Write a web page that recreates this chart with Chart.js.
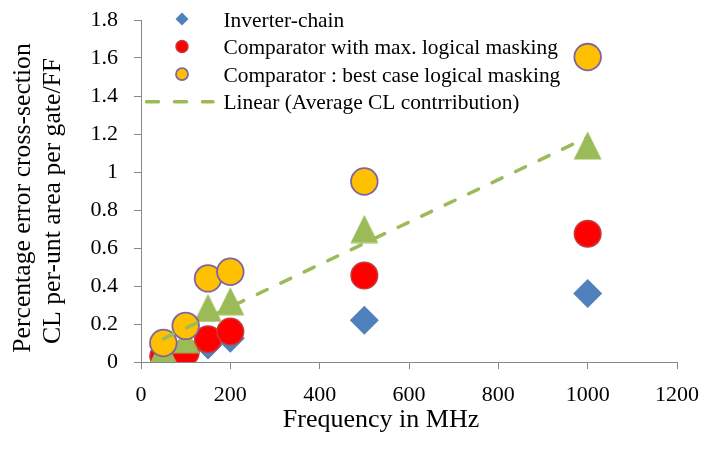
<!DOCTYPE html>
<html>
<head>
<meta charset="utf-8">
<script src="https://cdn.jsdelivr.net/npm/chart.js@4"></script>
<style>
  html, body { margin: 0; padding: 0; background: #ffffff; }
  #wrap { width: 706px; height: 453px; }
</style>
</head>
<body>
<div id="wrap"><canvas id="c" width="706" height="453"></canvas></div>
<script>
// Clock frequency of each test circuit (MHz)
const frequencies = [50, 100, 150, 200, 500, 1000];

// Percentage error cross-section, per-unit area per gate/FF
const inverterChain = [0.03, 0.06, 0.09, 0.125, 0.22, 0.36];
const comparatorMaxMasking = [0.03, 0.05, 0.12, 0.16, 0.455, 0.675];
const comparatorBestMasking = [0.10, 0.19, 0.44, 0.475, 0.95, 1.605];
const averageCL = [0.065, 0.12, 0.285, 0.32, 0.70, 1.14];

// Axis ticks
const xTickValues = [0, 200, 400, 600, 800, 1000, 1200];
const xTickLabels = ['0', '200', '400', '600', '800', '1000', '1200'];
const yTickValues = [0, 0.2, 0.4, 0.6, 0.8, 1, 1.2, 1.4, 1.6, 1.8];
const yTickLabels = ['0', '0.2', '0.4', '0.6', '0.8', '1', '1.2', '1.4', '1.6', '1.8'];

const SERIF = '"Liberation Serif", "Times New Roman", serif';
const AXIS_GREY = '#878787';
const GREEN = '#9bbb59';

const toPoints = (ys) => frequencies.map((f, i) => ({ x: f, y: ys[i] }));

// Least-squares trend line through the average CL contribution
function linearTrend(xs, ys) {
  const n = xs.length;
  const mx = xs.reduce((a, b) => a + b, 0) / n;
  const my = ys.reduce((a, b) => a + b, 0) / n;
  let sxy = 0, sxx = 0;
  for (let i = 0; i < n; i++) {
    sxy += (xs[i] - mx) * (ys[i] - my);
    sxx += (xs[i] - mx) * (xs[i] - mx);
  }
  const slope = sxy / sxx;
  const icpt = my - slope * mx;
  const x0 = xs[0], x1 = xs[n - 1];
  return [{ x: x0, y: icpt + slope * x0 }, { x: x1, y: icpt + slope * x1 }];
}

// Triangle marker centred on its bounding box
function triangleMarker(size, color) {
  const cv = document.createElement('canvas');
  cv.width = size; cv.height = size;
  const g = cv.getContext('2d');
  g.fillStyle = color;
  g.beginPath();
  g.moveTo(size / 2, 0.6);
  g.lineTo(size - 0.6, size - 0.6);
  g.lineTo(0.6, size - 0.6);
  g.closePath();
  g.fill();
  return cv;
}

const datasets = [
  {
    label: 'Inverter-chain',
    data: toPoints(inverterChain),
    pointStyle: 'rectRot',
    pointRadius: 14.5, pointHoverRadius: 14.5,
    backgroundColor: '#4f81bd', borderColor: '#4f81bd', borderWidth: 0,
    order: 4,
    legend: { radius: 6.5 }
  },
  {
    label: 'Comparator with max. logical masking',
    data: toPoints(comparatorMaxMasking),
    pointStyle: 'circle',
    pointRadius: 13.3, pointHoverRadius: 13.3,
    backgroundColor: '#ff0000', borderColor: '#c83a3a', borderWidth: 1.5,
    order: 3,
    legend: { radius: 6 }
  },
  {
    label: 'Average CL contribution',
    data: toPoints(averageCL),
    pointStyle: triangleMarker(29, GREEN),
    pointRadius: 14.5, pointHoverRadius: 14.5,
    backgroundColor: GREEN, borderColor: GREEN, borderWidth: 0,
    order: 2
  },
  {
    label: 'Comparator : best case logical masking',
    data: toPoints(comparatorBestMasking),
    pointStyle: 'circle',
    pointRadius: 13.3, pointHoverRadius: 13.3,
    backgroundColor: '#ffc000', borderColor: '#8064a2', borderWidth: 1.8,
    order: 1,
    legend: { radius: 6 }
  },
  {
    label: 'Linear (Average CL contrribution)',
    data: linearTrend(frequencies, averageCL),
    showLine: true,
    pointRadius: 0, pointHoverRadius: 0,
    borderColor: GREEN, backgroundColor: GREEN,
    borderWidth: 3.5, borderDash: [11, 15], borderCapStyle: 'round',
    order: 0,
    legend: { line: true }
  }
];

// Legend drawn inside the plot, top-left, in the order shown
const legendOrder = [0, 1, 3, 4];
const inPlotLegend = {
  id: 'inPlotLegend',
  afterDraw(chart) {
    const ctx = chart.ctx;
    const area = chart.chartArea;
    const markerX = area.left + 41;
    const textX = area.left + 82.5;
    ctx.save();
    legendOrder.forEach((di, row) => {
      const ds = chart.data.datasets[di];
      const cy = area.top - 1 + row * 27.6;
      if (ds.legend.line) {
        ctx.strokeStyle = ds.borderColor;
        ctx.lineWidth = ds.borderWidth;
        ctx.lineCap = 'round';
        ctx.setLineDash([12, 16]);
        ctx.beginPath();
        ctx.moveTo(area.left + 5.5, cy);
        ctx.lineTo(area.left + 72, cy);
        ctx.stroke();
        ctx.setLineDash([]);
      } else {
        ctx.fillStyle = ds.backgroundColor;
        ctx.strokeStyle = ds.borderColor;
        ctx.lineWidth = ds.borderWidth;
        Chart.helpers.drawPoint(ctx, {
          pointStyle: ds.pointStyle,
          radius: ds.legend.radius,
          rotation: 0,
          borderWidth: ds.borderWidth
        }, markerX, cy);
      }
      ctx.fillStyle = '#000000';
      ctx.font = '21.4px ' + SERIF;
      ctx.textAlign = 'left';
      ctx.textBaseline = 'alphabetic';
      ctx.fillText(ds.label, textX, cy + 7.5);
    });
    ctx.restore();
  }
};

// Axis titles
const axisTitles = {
  id: 'axisTitles',
  afterDraw(chart) {
    const ctx = chart.ctx;
    ctx.save();
    ctx.fillStyle = '#000000';
    ctx.textAlign = 'center';
    ctx.textBaseline = 'alphabetic';
    ctx.font = '26px ' + SERIF;
    ctx.fillText('Frequency in MHz', 381, 427);
    ctx.font = '25.7px ' + SERIF;
    const yLines = [['Percentage error cross-section', 30, 198], ['CL per-unt area per gate/FF', 60, 201]];
    yLines.forEach(([txt, x, y]) => {
      ctx.save();
      ctx.translate(x, y);
      ctx.rotate(-Math.PI / 2);
      ctx.fillText(txt, 0, 0);
      ctx.restore();
    });
    ctx.restore();
  }
};

const tickFont = { family: SERIF, size: 22 };
const noOverhang = (s) => { s.paddingTop = 0; s.paddingBottom = 0; s.paddingLeft = 0; s.paddingRight = 0; };

new Chart(document.getElementById('c'), {
  type: 'scatter',
  data: { datasets },
  options: {
    responsive: false,
    devicePixelRatio: 1,
    animation: false,
    events: [],
    layout: { padding: { top: 20, right: 29, left: 0, bottom: 0 } },
    plugins: { legend: { display: false }, tooltip: { enabled: false } },
    scales: {
      x: {
        type: 'linear', min: 0, max: 1200,
        afterBuildTicks: (s) => { s.ticks = xTickValues.map(v => ({ value: v })); },
        afterFit: (s) => { s.height = 91; noOverhang(s); },
        ticks: {
          autoSkip: false, maxRotation: 0, padding: 13,
          color: '#000000', font: tickFont,
          callback: (v) => xTickLabels[xTickValues.indexOf(v)]
        },
        grid: { display: true, drawOnChartArea: false, drawTicks: true, tickLength: 7, color: AXIS_GREY, tickColor: AXIS_GREY },
        border: { display: true, color: AXIS_GREY, width: 1 }
      },
      y: {
        type: 'linear', min: 0, max: 1.8,
        afterBuildTicks: (s) => { s.ticks = yTickValues.map(v => ({ value: v })); },
        afterFit: (s) => { s.width = 141; noOverhang(s); },
        ticks: {
          autoSkip: false, padding: 16,
          color: '#000000', font: tickFont,
          callback: (v) => yTickLabels[yTickValues.findIndex(t => Math.abs(t - v) < 1e-9)]
        },
        grid: { display: true, drawOnChartArea: false, drawTicks: true, tickLength: 7, color: AXIS_GREY, tickColor: AXIS_GREY },
        border: { display: true, color: AXIS_GREY, width: 1 }
      }
    }
  },
  plugins: [inPlotLegend, axisTitles]
});
</script>
</body>
</html>
